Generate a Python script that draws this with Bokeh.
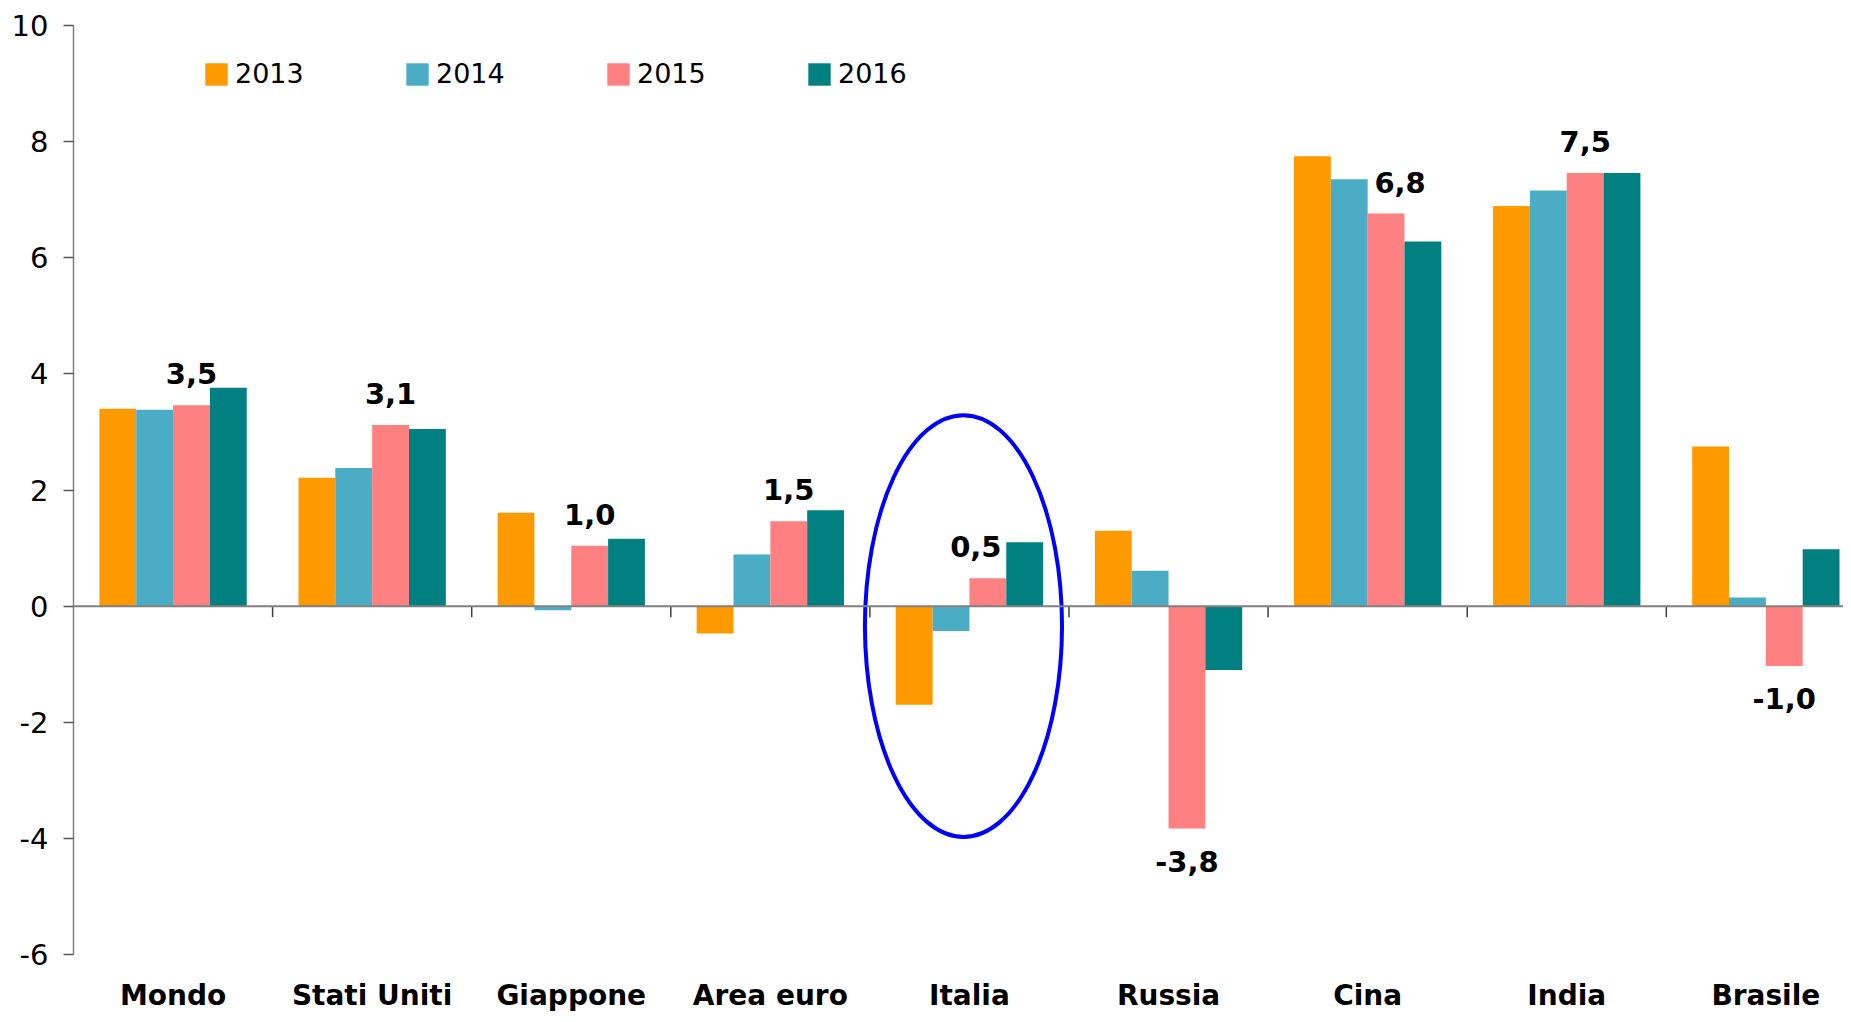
from bokeh.plotting import figure
from bokeh.models import Range1d, FixedTicker, Span, ColumnDataSource, LabelSet
from bokeh.core.properties import value
from bokeh.embed import file_html
from bokeh.resources import INLINE

categories = ["Mondo", "Stati Uniti", "Giappone", "Area euro", "Italia",
              "Russia", "Cina", "India", "Brasile"]
years = ["2013", "2014", "2015", "2016"]
v2013 = [3.40, 2.21, 1.61, -0.47, -1.70, 1.30, 7.75, 6.89, 2.75]
v2014 = [3.38, 2.38, -0.07, 0.89, -0.43, 0.61, 7.35, 7.16, 0.15]
v2015 = [3.46, 3.12, 1.04, 1.46, 0.48, -3.83, 6.76, 7.46, -1.03]
v2016 = [3.76, 3.05, 1.16, 1.65, 1.10, -1.10, 6.28, 7.46, 0.98]
y_ticks = [-6, -4, -2, 0, 2, 4, 6, 8, 10]
y_tick_labels = ["-6", "-4", "-2", "0", "2", "4", "6", "8", "10"]

series = [v2013, v2014, v2015, v2016]
colors = ["#FF9900", "#4BACC6", "#FF8080", "#008080"]
FONT = "DejaVu Sans"

# small horizontal nudges (px) of some data labels, as in the original
label_nudge = {"Cina": 14, "Italia": -12}

n = len(categories)
centers = [i + 0.5 for i in range(n)]
bw = 0.185

p = figure(width=1843, height=1014, x_range=Range1d(0, 8.89), y_range=Range1d(-6, 10),
           output_backend="svg", toolbar_location=None,
           min_border_left=73, min_border_right=0, min_border_top=25, min_border_bottom=59)
p.outline_line_color = None
p.xgrid.grid_line_color = None
p.ygrid.grid_line_color = None
p.background_fill_color = "white"

for k, (yr, vals, col) in enumerate(zip(years, series, colors)):
    off = (k - 1.5) * bw
    xs = [c + off for c in centers]
    p.vbar(x=xs, top=vals, bottom=0, width=bw, fill_color=col, line_color=None,
           legend_label=yr)

# zero line
p.add_layout(Span(location=0, dimension="width", line_color="#808080", line_width=2))

# category boundary ticks hanging from the zero line
bounds = list(range(1, n + 1))
p.segment(x0=bounds, y0=[0] * len(bounds), x1=bounds, y1=[-0.19] * len(bounds),
          line_color="#404040", line_width=1.5)

# data labels for 2015
lab_x = [c + 0.5 * bw for c in centers]
lab_txt = [f"{v:.1f}".replace(".", ",") for v in v2015]
lab_yoff = [21 if v >= 0 else -43 for v in v2015]
lab_xoff = [label_nudge.get(c, 0) for c in categories]
src = ColumnDataSource(dict(x=lab_x, y=v2015, t=lab_txt, yoff=lab_yoff, xoff=lab_xoff))
labels = LabelSet(x="x", y="y", text="t", source=src, y_offset="yoff", x_offset="xoff",
                  text_align="center", text_baseline="alphabetic",
                  text_font=value(FONT), text_font_size=value("29px"),
                  text_font_style="bold", text_color="black")
p.add_layout(labels)

# highlight ellipse around Italia
p.ellipse(x=4.47, y=-0.344, width=0.99, height=7.27, fill_color=None,
          line_color="#0000FF", line_width=4)

# y axis
p.yaxis.ticker = FixedTicker(ticks=y_ticks)
p.yaxis.major_label_overrides = {t: s for t, s in zip(y_ticks, y_tick_labels)}
p.yaxis.axis_line_color = "#808080"
p.yaxis.axis_line_width = 1.5
p.yaxis.major_tick_line_color = "#555555"
p.yaxis.major_tick_line_width = 1.5
p.yaxis.major_tick_out = 10
p.yaxis.major_tick_in = 0
p.yaxis.minor_tick_line_color = None
p.yaxis.major_label_text_font = FONT
p.yaxis.major_label_text_font_size = "29px"
p.yaxis.major_label_text_color = "black"
p.yaxis.major_label_standoff = 15

# x axis (category labels at bottom)
p.xaxis.ticker = FixedTicker(ticks=centers)
p.xaxis.major_label_overrides = {c: name for c, name in zip(centers, categories)}
p.xaxis.axis_line_color = None
p.xaxis.major_tick_line_color = None
p.xaxis.major_tick_out = 0
p.xaxis.major_tick_in = 0
p.xaxis.minor_tick_line_color = None
p.xaxis.major_label_text_font = FONT
p.xaxis.major_label_text_font_size = "28px"
p.xaxis.major_label_text_font_style = "bold"
p.xaxis.major_label_text_color = "black"
p.xaxis.major_label_standoff = 24

# legend
lg = p.legend[0]
lg.orientation = "horizontal"
lg.location = (129, 865)
lg.padding = 0
lg.margin = 0
lg.spacing = 0
lg.glyph_width = 28
lg.glyph_height = 28
lg.label_standoff = 5
lg.label_width = 168
lg.label_text_font = FONT
lg.label_text_font_size = "27px"
lg.label_text_color = "black"
lg.border_line_color = None
lg.background_fill_alpha = 0

open("out.html", "w").write(file_html(p, INLINE))
